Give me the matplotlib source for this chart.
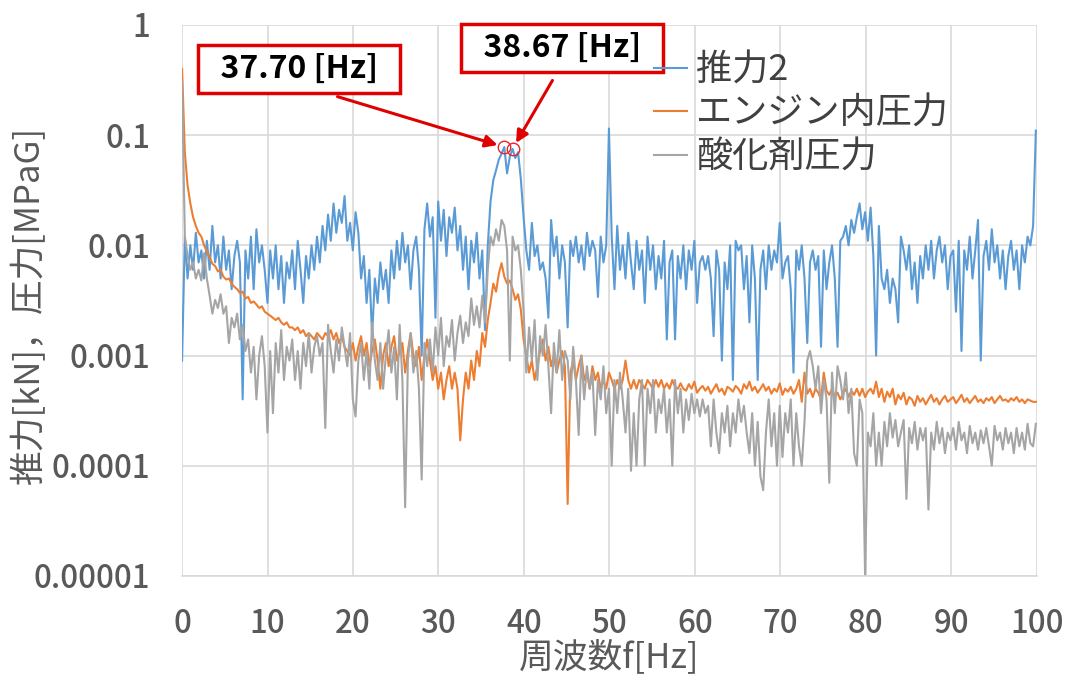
import numpy as np
import matplotlib
matplotlib.use("Agg")
import matplotlib.pyplot as plt

plt.rcParams["font.family"] = ["Noto Sans CJK JP", "DejaVu Sans"]

# 周波数分解能 [Hz]
df = 0.32225
n_points = 311

# 推力2
thrust2 = [
    0.0009, 0.012, 0.005, 0.010, 0.006, 0.013, 0.007, 0.009, 0.005, 0.011,
    0.006, 0.015, 0.007, 0.010, 0.005, 0.012, 0.006, 0.009, 0.004, 0.008,
    0.011, 0.007, 0.0004, 0.009, 0.005, 0.012, 0.004, 0.014, 0.007, 0.010,
    0.006, 0.003, 0.009, 0.005, 0.010, 0.004, 0.008, 0.003, 0.007, 0.005,
    0.009, 0.004, 0.011, 0.006, 0.003, 0.008, 0.005, 0.010, 0.006, 0.012,
    0.007, 0.015, 0.009, 0.019, 0.011, 0.024, 0.013, 0.021, 0.016, 0.028,
    0.011, 0.016, 0.009, 0.020, 0.013, 0.005, 0.008, 0.003, 0.006, 0.0015,
    0.005, 0.003, 0.007, 0.004, 0.006, 0.003, 0.009, 0.005, 0.011, 0.006,
    0.013, 0.007, 0.010, 0.004, 0.009, 0.012, 0.006, 0.001, 0.014, 0.024,
    0.012, 0.018, 0.0022, 0.025, 0.011, 0.021, 0.008, 0.018, 0.013, 0.022,
    0.009, 0.015, 0.006, 0.012, 0.004, 0.011, 0.007, 0.013, 0.005, 0.009,
    0.0017, 0.010, 0.025, 0.039, 0.048, 0.060, 0.068, 0.078, 0.045, 0.064,
    0.075, 0.062, 0.070, 0.040, 0.018, 0.009, 0.006, 0.016, 0.008, 0.010,
    0.006, 0.007, 0.005, 0.0022, 0.017, 0.008, 0.012, 0.005, 0.010, 0.007,
    0.0018, 0.011, 0.008, 0.012, 0.007, 0.010, 0.006, 0.013, 0.008, 0.011,
    0.009, 0.0034, 0.012, 0.007, 0.010, 0.115, 0.012, 0.004, 0.015, 0.006,
    0.010, 0.005, 0.013, 0.007, 0.004, 0.011, 0.006, 0.009, 0.003, 0.012,
    0.006, 0.010, 0.004, 0.008, 0.005, 0.011, 0.0014, 0.007, 0.009, 0.0014,
    0.008, 0.005, 0.010, 0.004, 0.009, 0.006, 0.011, 0.003, 0.007, 0.008,
    0.006, 0.008, 0.005, 0.0015, 0.009, 0.006, 0.0009, 0.007, 0.004, 0.010,
    0.0006, 0.011, 0.009, 0.010, 0.004, 0.008, 0.002, 0.010, 0.005, 0.0006,
    0.006, 0.009, 0.004, 0.010, 0.006, 0.009, 0.007, 0.016, 0.005, 0.007,
    0.008, 0.004, 0.0007, 0.009, 0.006, 0.010, 0.005, 0.0013, 0.007, 0.009,
    0.006, 0.008, 0.0012, 0.009, 0.004, 0.007, 0.010, 0.005, 0.0012, 0.011,
    0.012, 0.015, 0.010, 0.017, 0.013, 0.018, 0.024, 0.014, 0.020, 0.011,
    0.022, 0.008, 0.001, 0.015, 0.005, 0.004, 0.006, 0.003, 0.005, 0.004,
    0.002, 0.012, 0.009, 0.006, 0.010, 0.004, 0.007, 0.003, 0.008, 0.005,
    0.010, 0.006, 0.011, 0.005, 0.009, 0.012, 0.007, 0.010, 0.004, 0.008,
    0.009, 0.0025, 0.011, 0.0011, 0.009, 0.006, 0.012, 0.005, 0.009, 0.017,
    0.0009, 0.008, 0.011, 0.006, 0.014, 0.007, 0.010, 0.005, 0.009, 0.004,
    0.008, 0.011, 0.006, 0.009, 0.004, 0.010, 0.007, 0.012, 0.010, 0.015,
    0.11,
]

# エンジン内圧力
engine_p = [
    0.40, 0.07, 0.035, 0.024, 0.018, 0.015, 0.013, 0.012, 0.010, 0.0088,
    0.0078, 0.0068, 0.0065, 0.0058, 0.0060, 0.0052, 0.0049, 0.0050, 0.0045, 0.0042,
    0.0040, 0.0037, 0.0038, 0.0033, 0.0034, 0.0030, 0.0031, 0.0029, 0.0027, 0.0028,
    0.0025, 0.0024, 0.0023, 0.0022, 0.0021, 0.0022, 0.0020, 0.0019, 0.0020, 0.0018,
    0.0018, 0.0017, 0.0018, 0.0016, 0.0017, 0.0015, 0.0016, 0.0015, 0.0014, 0.0016,
    0.0015, 0.0014, 0.0016, 0.0015, 0.0017, 0.0014, 0.0016, 0.0013, 0.0015, 0.0012,
    0.0011, 0.0010, 0.0013, 0.0009, 0.0012, 0.0015, 0.0010, 0.0013, 0.0008, 0.0011,
    0.0014, 0.0009, 0.0005, 0.0010, 0.0013, 0.0008, 0.0012, 0.0015, 0.0009, 0.0011,
    0.0013, 0.0007, 0.0011, 0.0016, 0.0010, 0.0008, 0.0012, 0.0006, 0.0010, 0.0014,
    0.0009, 0.0006, 0.0008, 0.0005, 0.0007, 0.0004, 0.0006, 0.0008, 0.0005, 0.0007,
    0.0005, 0.00017, 0.0004, 0.0007, 0.0005, 0.0009, 0.0006, 0.0011, 0.0008, 0.0016,
    0.0012, 0.0021, 0.0030, 0.0045, 0.0038, 0.0055, 0.0069, 0.0052, 0.0045, 0.0048,
    0.0040, 0.0032, 0.0036, 0.0026, 0.0014, 0.0010, 0.0007, 0.0009, 0.0006, 0.0008,
    0.0011, 0.0014, 0.0009, 0.0012, 0.0008, 0.0010, 0.0007, 0.0009, 0.0011, 0.0008,
    0.000045, 0.0007, 0.0009, 0.0006, 0.0008, 0.0010, 0.0006, 0.0007, 0.0005, 0.0008,
    0.0006, 0.0007, 0.0005, 0.0006, 0.0005, 0.0007, 0.0006, 0.0005, 0.0006, 0.0005,
    0.0006, 0.0009, 0.0006, 0.0005, 0.0006, 0.0005, 0.0006, 0.00055, 0.0005, 0.0006,
    0.00055, 0.0005, 0.0006, 0.00052, 0.0006, 0.0005, 0.00056, 0.0005, 0.0006, 0.00052,
    0.0005, 0.00056, 0.0005, 0.00048, 0.00055, 0.0005, 0.00058, 0.00046, 0.0005, 0.00053,
    0.00048, 0.00052, 0.00045, 0.0005, 0.00055, 0.00047, 0.0005, 0.00044, 0.00052, 0.0005,
    0.00047, 0.00053, 0.0005, 0.00045, 0.00055, 0.0005, 0.00058, 0.00048, 0.00052, 0.00046,
    0.0005, 0.00055, 0.00048, 0.00052, 0.00045, 0.0005, 0.00047, 0.00056, 0.00044, 0.0005,
    0.00047, 0.00052, 0.00045, 0.0005, 0.0006, 0.00038, 0.0007, 0.00045, 0.0005, 0.00042,
    0.0005, 0.00046, 0.0004, 0.0007, 0.00048, 0.00044, 0.0005, 0.00042, 0.00046, 0.0004,
    0.00045, 0.0005, 0.00042, 0.00048, 0.00044, 0.0005, 0.00043, 0.0005, 0.00042, 0.00047,
    0.0005, 0.00045, 0.00058, 0.00042, 0.0005, 0.00038, 0.00047, 0.00042, 0.0005, 0.00036,
    0.00044, 0.0004, 0.00046, 0.00036, 0.00042, 0.0004, 0.00035, 0.00043, 0.00038, 0.00041,
    0.00036, 0.0004, 0.00044, 0.00038, 0.00041, 0.00036, 0.0004, 0.00043, 0.00038, 0.0004,
    0.00042, 0.00037, 0.0004, 0.00044, 0.00038, 0.00041, 0.00037, 0.0004, 0.00043, 0.00038,
    0.0004, 0.00037, 0.00041, 0.00039, 0.00042, 0.00037, 0.0004, 0.00043, 0.00039, 0.0004,
    0.00038, 0.00041, 0.00039, 0.00042, 0.00038, 0.0004, 0.00037, 0.0004, 0.00039, 0.00038,
    0.00038,
]

# 酸化剤圧力
oxidizer_p = [
    0.30, 0.012, 0.008, 0.006, 0.007, 0.005, 0.006, 0.0048, 0.0085, 0.005,
    0.0035, 0.0024, 0.0032, 0.0027, 0.0036, 0.0024, 0.0028, 0.0013, 0.0022, 0.0018,
    0.0024, 0.0014, 0.0019, 0.0011, 0.0014, 0.0007, 0.0012, 0.0004, 0.0010, 0.0015,
    0.0008, 0.0002, 0.0011, 0.0003, 0.0013, 0.0007, 0.0017, 0.0006, 0.0012, 0.0009,
    0.0014, 0.0006, 0.0011, 0.0005, 0.0013, 0.0008, 0.0016, 0.0007, 0.0012, 0.0015,
    0.0010, 0.0013, 0.00022, 0.0019, 0.0011, 0.0007, 0.0014, 0.0009, 0.0018, 0.0012,
    0.0008, 0.0016, 0.0004, 0.00028, 0.0009, 0.0013, 0.0006, 0.0011, 0.0005, 0.0020,
    0.0009, 0.0006, 0.0013, 0.0005, 0.0010, 0.0017, 0.0007, 0.0012, 0.0004, 0.0019,
    0.0006, 0.000042, 0.0009, 0.0016, 0.0007, 0.0011, 0.0005, 0.000075, 0.0013, 0.0008,
    0.0014, 0.0007, 0.0018, 0.0010, 0.0022, 0.0008, 0.0015, 0.0012, 0.0021, 0.0009,
    0.0016, 0.0023, 0.0013, 0.0020, 0.0015, 0.0033, 0.0019, 0.0028, 0.0018, 0.0035,
    0.0020, 0.0060, 0.0120, 0.0100, 0.0140, 0.0110, 0.0170, 0.0150, 0.0090, 0.0009,
    0.0120, 0.0090, 0.0100, 0.0060, 0.0025, 0.0007, 0.0018, 0.0009, 0.0021, 0.0006,
    0.0015, 0.0010, 0.0019, 0.0008, 0.0003, 0.0013, 0.0007, 0.0017, 0.0006, 0.0011,
    0.0009, 0.0004, 0.0012, 0.0006, 0.00019, 0.0010, 0.0004, 0.0008, 0.0005, 0.0007,
    0.00019, 0.0006, 0.0004, 0.0008, 0.0003, 0.0005, 0.0001, 0.0006, 0.0003, 0.0007,
    0.0004, 0.0002, 0.0005, 0.00009, 0.0003, 0.0001, 0.0004, 0.0006, 0.0001, 0.0005,
    0.0003, 0.0006, 0.0002, 0.0004, 0.0003, 0.0005, 0.0002, 0.0004, 0.0001, 0.0006,
    0.0003, 0.0005, 0.0002, 0.0004, 0.00026, 0.00045, 0.0003, 0.0004, 0.00028, 0.0004,
    0.0003, 0.00035, 0.00015, 0.0004, 0.0002, 0.00013, 0.0003, 0.0002, 0.00035, 0.00015,
    0.0003, 0.0002, 0.0004, 0.00025, 0.00035, 0.0002, 0.00013, 0.0003, 0.0001, 0.00025,
    0.00008, 0.00006, 0.0002, 0.0004, 0.00015, 0.0003, 0.0001, 0.00035, 0.00012, 0.0003,
    0.0002, 0.0004, 0.0001, 0.0003, 0.00015, 0.0001, 0.00025, 0.0009, 0.0011, 0.0008,
    0.0005, 0.0008, 0.0003, 0.0006, 0.0004, 0.00007, 0.0007, 0.0003, 0.0008, 0.0006,
    0.0004, 0.0007, 0.0003, 0.0005, 0.00013, 0.0001, 0.0004, 0.0003, 0.00001, 0.0002,
    0.00015, 0.0003, 0.0001, 0.0002, 0.0001, 0.00025, 0.00015, 0.0003, 0.00018, 0.00026,
    0.00015, 0.0002, 0.00026, 0.00005, 0.00022, 0.00016, 0.00025, 0.00014, 0.00022, 0.00017,
    0.00022, 0.00004, 0.0002, 0.00014, 0.00025, 0.00016, 0.00022, 0.00013, 0.0002, 0.00017,
    0.00022, 0.00014, 0.00025, 0.00017, 0.0002, 0.00013, 0.00023, 0.00016, 0.0002, 0.00014,
    0.00021, 0.00016, 0.00022, 0.00015, 0.0001, 0.00023, 0.00017, 0.0002, 0.00014, 0.00022,
    0.00016, 0.0002, 0.00013, 0.00022, 0.00015, 0.0002, 0.00014, 0.00024, 0.00016, 0.00015,
    0.00024,
]

series_names = ["推力2", "エンジン内圧力", "酸化剤圧力"]
series_colors = ["#5B9BD5", "#ED7D31", "#A5A5A5"]

x_ticks = [0, 10, 20, 30, 40, 50, 60, 70, 80, 90, 100]
y_ticks = [1e-5, 1e-4, 1e-3, 1e-2, 1e-1, 1]
y_tick_labels = ["0.00001", "0.0001", "0.001", "0.01", "0.1", "1"]

# ピーク (推力2)
peak_idx = [117, 120]
peak_labels = ["37.70 [Hz]", "38.67 [Hz]"]

freq = np.arange(n_points) * df

fig = plt.figure(figsize=(10.71, 6.84), dpi=100)
ax = fig.add_axes([0.170, 0.158, 0.798, 0.8055])

for vals, name, color in zip([thrust2, engine_p, oxidizer_p], series_names, series_colors):
    ax.plot(freq, vals, color=color, lw=1.5, label=name)

ax.set_yscale("log")
ax.set_xlim(0, 100)
ax.set_ylim(1e-5, 1)
ax.set_xticks(x_ticks)
ax.set_yticks(y_ticks)
ax.set_yticklabels(y_tick_labels)
ax.yaxis.set_minor_locator(matplotlib.ticker.NullLocator())
ax.tick_params(length=0, labelsize=22.5, labelcolor="#595959", pad=23)
for lbl in ax.get_xticklabels() + ax.get_yticklabels():
    lbl.set_fontweight(500)
ax.grid(True, color="#d9d9d9", lw=1.2)
ax.set_axisbelow(True)
for side in ["top", "right", "left"]:
    ax.spines[side].set_visible(False)
ax.spines["bottom"].set_color("#d9d9d9")
ax.spines["bottom"].set_linewidth(1.2)

ax.set_xlabel("周波数f[Hz]", fontsize=25, color="#595959", labelpad=0)
ax.set_ylabel("推力[kN]，圧力[MPaG]", fontsize=25, color="#595959")
ax.yaxis.set_label_coords(-0.158, 0.49)

leg = ax.legend(
    loc="upper left",
    bbox_to_anchor=(0.527, 0.99),
    frameon=False,
    fontsize=26,
    handlelength=0.9,
    handletextpad=0.25,
    labelspacing=0.22,
    borderaxespad=0.2,
)
for t in leg.get_texts():
    t.set_color("#404040")

# ピークの丸印と注記
px = [freq[i] for i in peak_idx]
py = [thrust2[i] for i in peak_idx]
ax.plot(px, py, "o", mfc="none", mec="#E8262B", ms=9, mew=1.0)

box = dict(boxstyle="square,pad=0.25", fc="white", ec="#E00000", lw=2.5)
arrow = dict(arrowstyle="-|>", color="#E00000", lw=2.2, mutation_scale=18,
             shrinkA=6, shrinkB=5, relpos=(0.5, 0.0))
ax.annotate("  " + peak_labels[0] + "  ", xy=(px[0], py[0]), xytext=(299, 615),
            textcoords="figure pixels", ha="center", va="center",
            fontsize=23, fontweight="bold", bbox=box, arrowprops=arrow)
ax.annotate("  " + peak_labels[1] + "  ", xy=(px[1], py[1]), xytext=(562, 636),
            textcoords="figure pixels", ha="center", va="center",
            fontsize=23, fontweight="bold", bbox=box, arrowprops=arrow)

fig.savefig("out.png", dpi=100)
